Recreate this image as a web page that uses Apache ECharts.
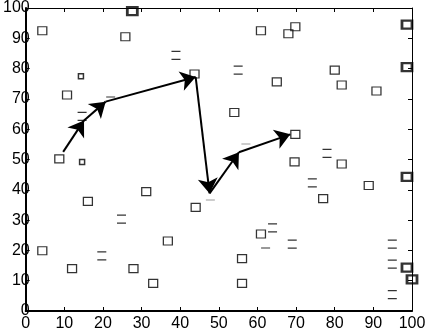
<!DOCTYPE html>
<html>
<head>
<meta charset="utf-8">
<script src="https://cdn.jsdelivr.net/npm/echarts@6/dist/echarts.min.js"></script>
<style>
html,body{margin:0;padding:0;background:#fff;}
#c{width:434px;height:332px;}
</style>
</head>
<body>
<div id="c"></div>
<script>
// Axis
const axisMin = 0, axisMax = 100, axisStep = 10;
// Plain square markers
const squarePts = [[4.3,92.5],[25.8,90.5],[10.7,71.3],[43.7,78.2],[8.7,50.2],[60.9,92.5],[68,91.5],[69.8,93.8],
  [65,75.6],[80,79.5],[81.8,74.6],[90.8,72.6],[54,65.5],[69.8,58.3],[69.6,49.2],[81.8,48.5],[4.3,19.9],[12,14],
  [16.1,36.2],[31.2,39.4],[27.9,14],[33,9.1],[36.8,23.1],[44,34.2],[88.8,41.4],[77,37.1],[60.9,25.4],[56,17.3],[56,9.1]];
// Heavy (overlapping) square markers
const boldPts = [[27.6,99],[98.7,94.5],[98.7,80.5],[98.7,44.3],[98.7,14.3],[100,10.4]];
// Squares rendered with only top/bottom edges
const barPts = [[14.6,64.2],[38.9,84.4],[55,79.5],[78,52],[19.7,18.2],[24.8,30.3],[74.2,42.3],[63.9,27.4],
  [69,22.1],[94.9,22.1],[94.9,15.5],[94.9,5.4]];
// Squares rendered with one edge only
const dashPts = [[22,70.7],[57,55],[62.1,20.8],[47.8,36.5]];
// Small squares
const smallPts = [[14.3,77.5],[14.6,49.2]];
// Arrow path
const pathPts = [[9.7,52.5],[15.1,62.9],[20.7,69.1],[44,77.2],[47.6,38.8],[55.2,52.4],[68.5,58.3]];

const chart = echarts.init(document.getElementById('c'), null, {renderer:'canvas'});
const font = 'Liberation Sans, Arial, sans-serif';
function axis(pos, show, lw, isX){
  return {
    type:'value', position:pos, min:axisMin, max:axisMax, interval:axisStep,
    axisLine:{show:true, onZero:false, lineStyle:{color:'#000', width:lw}},
    axisTick:{show:true, inside:true, length:4, lineStyle:{color:'#000', width:1}},
    axisLabel:{show:show, color:'#000', fontFamily:font, fontSize:16, margin: isX ? 5 : -4},
    splitLine:{show:false}
  };
}
const segs = [];
for (let i = 0; i < pathPts.length - 1; i++) segs.push({coords:[pathPts[i], pathPts[i+1]]});

chart.setOption({
  animation:false,
  backgroundColor:'#fff',
  grid:{left:21, right:22, top:4, bottom:21, containLabel:false},
  xAxis:[axis('bottom', true, 2, true), axis('top', false, 1, true)],
  yAxis:[axis('left', true, 2, false), axis('right', false, 1, false)],
  series:[
    {type:'scatter', data:squarePts, symbol:'rect', symbolSize:[9,8],
      itemStyle:{color:'transparent', borderColor:'#000', borderWidth:1.2}},
    {type:'scatter', data:boldPts, symbol:'rect', symbolSize:[10,8],
      itemStyle:{color:'transparent', borderColor:'#000', borderWidth:2.5}},
    {type:'scatter', data:barPts, symbol:'path://M0,0L10,0M0,8L10,8', symbolSize:[9,8], symbolKeepAspect:false,
      itemStyle:{color:'transparent', borderColor:'#000', borderWidth:1.3}},
    {type:'scatter', data:dashPts, symbol:'path://M0,0L10,0M0,0.01L10,0.01', symbolSize:[9,1],
      itemStyle:{color:'transparent', borderColor:'#000', borderWidth:1.3}},
    {type:'scatter', data:smallPts, symbol:'rect', symbolSize:[5,5],
      itemStyle:{color:'transparent', borderColor:'#000', borderWidth:1.5}},
    {type:'lines', coordinateSystem:'cartesian2d', data:segs, symbol:['none','arrow'], symbolSize:15,
      lineStyle:{color:'#000', width:2, opacity:1}, itemStyle:{color:'#000'}}
  ]
});
</script>
</body>
</html>
